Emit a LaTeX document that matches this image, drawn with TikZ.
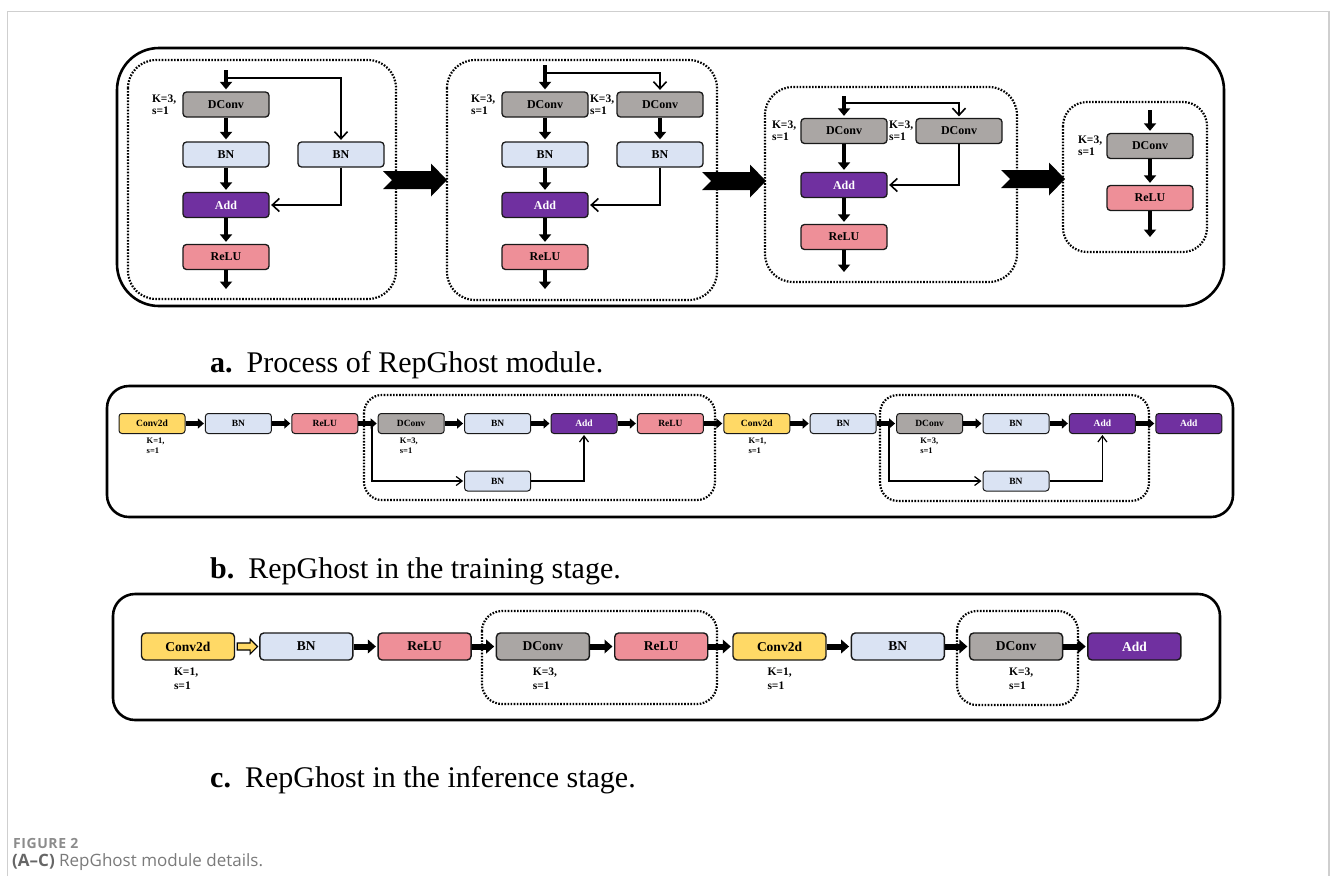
\documentclass[tikz,border=0pt]{standalone}
\usepackage{fontspec}
\setmainfont{Liberation Serif}
\newfontfamily\capfont{Open Sans}
\usetikzlibrary{arrows.meta,calc}

\definecolor{dconvgray}{HTML}{AAA6A4}
\definecolor{bnblue}{HTML}{DAE3F3}
\definecolor{addpurple}{HTML}{7030A0}
\definecolor{relupink}{HTML}{EE8F98}
\definecolor{convyellow}{HTML}{FFD966}
\definecolor{framegray}{HTML}{CFCFCF}
\definecolor{capgray}{HTML}{7A7A7A}
\definecolor{caplight}{HTML}{8C8C8C}
\definecolor{capdark}{HTML}{666666}

\tikzset{
  box/.style={draw=black!90, rounded corners=3.5pt, inner sep=0pt, text=black},
  boxA/.style={box, line width=1.3pt, minimum width=86pt, minimum height=25pt,
    font=\fontsize{12}{14}\selectfont\bfseries},
  boxB/.style={box, line width=1pt, rounded corners=3pt, minimum width=66pt, minimum height=20pt,
    font=\fontsize{9.5}{11}\selectfont\bfseries},
  boxC/.style={box, line width=1.4pt, rounded corners=4pt, minimum width=93pt, minimum height=27pt,
    font=\fontsize{13.5}{16}\selectfont\bfseries},
  dconv/.style={fill=dconvgray},
  bn/.style={fill=bnblue},
  addop/.style={fill=addpurple, text=white},
  relu/.style={fill=relupink},
  conv/.style={fill=convyellow},
  thickA/.style={line width=4.6pt, -{Triangle[length=7.5pt,width=12pt]}, shorten >=2pt},
  thickB/.style={line width=4.2pt, -{Triangle[length=6pt,width=10pt]}, shorten >=1pt},
  thickC/.style={line width=6pt, -{Triangle[length=8pt,width=13.5pt]}, shorten >=1.5pt},
  thinA/.style={line width=1.6pt, -{Straight Barb[length=7pt,width=13pt]}, shorten >=1.5pt},
  thinB/.style={line width=1.2pt, -{Straight Barb[length=6pt,width=9pt]}, shorten >=1pt},
  lblA/.style={font=\fontsize{11.5}{12}\selectfont\bfseries, align=left, inner sep=0pt},
  lblB/.style={font=\fontsize{8.5}{10}\selectfont\bfseries, align=left, inner sep=0pt},
  lblC/.style={font=\fontsize{11.5}{13.5}\selectfont\bfseries, align=left, inner sep=0pt},
  outerbox/.style={draw=black, line width=2.6pt},
  modbox/.style={draw=black, line width=2.2pt, dash pattern=on 1.6pt off 1.5pt},
  title/.style={anchor=base west, inner sep=0pt, font=\fontsize{30}{33}\selectfont},
  bigarr/.pic={\fill (0,-9) -- (48,-9) -- (48,-16.5) -- (64,0) -- (48,16.5) -- (48,9) -- (0,9) -- (9,0) -- cycle;}
}

\begin{document}
\begin{tikzpicture}[x=1pt,y=-1pt]
\useasboundingbox (0,0) rectangle (1331,876);

% page frame
\draw[framegray, line width=1.3pt] (7.5,876) -- (7.5,11.5) -- (1329,11.5) -- (1329,876);

% ---------------- panel a: re-parameterisation steps ----------------
\draw[outerbox, rounded corners=42pt] (117,48) rectangle (1224,306);
\draw[modbox, rounded corners=28pt] (128,60) rectangle (396,299);
\draw[modbox, rounded corners=28pt] (447,60) rectangle (717,300);
\draw[modbox, rounded corners=28pt] (765,87) rectangle (1017,282);
\draw[modbox, rounded corners=24pt] (1063,102) rectangle (1207,252);

\pic at (383,180) {bigarr};
\pic at (702,181) {bigarr};
\pic at (1001,179) {bigarr};

% step 1
\node[boxA,dconv] (a1dc) at (226,104.5) {DConv};
\node[boxA,bn] (a1bn) at (226,154.5) {BN};
\node[boxA,bn] (a1bnr) at (341,154.5) {BN};
\node[boxA,addop] (a1add) at (226,205) {Add};
\node[boxA,relu] (a1relu) at (226,257) {ReLU};
\coordinate (a1in) at (226,70);
\coordinate (a1br) at (226,78);
\coordinate (a1out) at (226,291);
\draw[thickA] (a1in) -- (a1dc);
\draw[thickA] (a1dc) -- (a1bn);
\draw[thickA] (a1bn) -- (a1add);
\draw[thickA] (a1add) -- (a1relu);
\draw[thickA] (a1relu) -- (a1out);
\draw[thinA] (a1br) -| (a1bnr);
\draw[thinA] (a1bnr) |- (a1add);
\node[lblA, anchor=north east] at ($(a1dc.north west)+(-6,3)$) {K=3,\\s=1};

% step 2
\node[boxA,dconv] (a2dc) at (545,104.5) {DConv};
\node[boxA,dconv] (a2dcr) at (660,104.5) {DConv};
\node[boxA,bn] (a2bn) at (545,154.5) {BN};
\node[boxA,bn] (a2bnr) at (660,154.5) {BN};
\node[boxA,addop] (a2add) at (545,205) {Add};
\node[boxA,relu] (a2relu) at (545,257) {ReLU};
\coordinate (a2in) at (545,65);
\coordinate (a2br) at (545,73);
\coordinate (a2out) at (545,291);
\draw[thickA] (a2in) -- (a2dc);
\draw[thickA] (a2dc) -- (a2bn);
\draw[thickA] (a2dcr) -- (a2bnr);
\draw[thickA] (a2bn) -- (a2add);
\draw[thickA] (a2add) -- (a2relu);
\draw[thickA] (a2relu) -- (a2out);
\draw[thinA] (a2br) -| (a2dcr);
\draw[thinA] (a2bnr) |- (a2add);
\node[lblA, anchor=north east] at ($(a2dc.north west)+(-6,3)$) {K=3,\\s=1};
\node[lblA, anchor=north east] at ($(a2dcr.north west)+(-2,3)$) {K=3,\\s=1};

% step 3
\node[boxA,dconv] (a3dc) at (844,131) {DConv};
\node[boxA,dconv] (a3dcr) at (959,131) {DConv};
\node[boxA,addop] (a3add) at (844,185) {Add};
\node[boxA,relu] (a3relu) at (844,237) {ReLU};
\coordinate (a3in) at (844,96);
\coordinate (a3br) at (844,103);
\coordinate (a3out) at (844,274);
\draw[thickA] (a3in) -- (a3dc);
\draw[thickA] (a3dc) -- (a3add);
\draw[thickA] (a3add) -- (a3relu);
\draw[thickA] (a3relu) -- (a3out);
\draw[thinA] (a3br) -| (a3dcr);
\draw[thinA] (a3dcr) |- (a3add);
\node[lblA, anchor=north east] at ($(a3dc.north west)+(-4,3)$) {K=3,\\s=1};
\node[lblA, anchor=north east] at ($(a3dcr.north west)+(-2,3)$) {K=3,\\s=1};

% step 4
\node[boxA,dconv] (a4dc) at (1150,146) {DConv};
\node[boxA,relu] (a4relu) at (1150,198) {ReLU};
\coordinate (a4in) at (1150,110);
\coordinate (a4out) at (1150,239);
\draw[thickA] (a4in) -- (a4dc);
\draw[thickA] (a4dc) -- (a4relu);
\draw[thickA] (a4relu) -- (a4out);
\node[lblA, anchor=north east] at ($(a4dc.north west)+(-4,3)$) {K=3,\\s=1};

\node[title] (ta) at (210,372) {\textbf{a.}\hspace{14pt}Process of RepGhost module.};

% ---------------- panel b: training stage ----------------
\draw[outerbox, rounded corners=22pt] (107,386) rectangle (1233,517);
\draw[modbox, rounded corners=18pt] (364,395) rectangle (715,500);
\draw[modbox, rounded corners=18pt] (880,395) rectangle (1149,501);

\node[boxB,conv]  (b1)  at (152,423.5) {Conv2d};
\node[boxB,bn]    (b2)  at (238.4,423.5) {BN};
\node[boxB,relu]  (b3)  at (324.8,423.5) {ReLU};
\node[boxB,dconv] (b4)  at (411.2,423.5) {DConv};
\node[boxB,bn]    (b5)  at (497.6,423.5) {BN};
\node[boxB,addop] (b6)  at (584,423.5) {Add};
\node[boxB,relu]  (b7)  at (670.4,423.5) {ReLU};
\node[boxB,conv]  (b8)  at (756.8,423.5) {Conv2d};
\node[boxB,bn]    (b9)  at (843.2,423.5) {BN};
\node[boxB,dconv] (b10) at (929.6,423.5) {DConv};
\node[boxB,bn]    (b11) at (1016,423.5) {BN};
\node[boxB,addop] (b12) at (1102.4,423.5) {Add};
\node[boxB,addop] (b13) at (1188.8,423.5) {Add};
\node[boxB,bn]    (bl1) at (497.6,481) {BN};
\node[boxB,bn]    (bl2) at (1016,481) {BN};

\foreach \i/\j in {1/2,2/3,3/4,4/5,5/6,6/7,7/8,8/9,9/10,10/11,11/12,12/13}
  \draw[thickB] (b\i) -- (b\j);

\coordinate (bbr1) at (372,423.5);
\coordinate (bbr2) at (889,423.5);
\draw[thinB] (bbr1) |- (bl1);
\draw[thinB] (bl1) -| (b6);
\draw[thinB] (bbr2) |- (bl2);
\draw[thinB] (bl2) -| (b12);

\node[lblB, anchor=north west] at ($(b1.south west)+(28,4)$) {K=1,\\s=1};
\node[lblB, anchor=north west] at ($(b4.south west)+(22,4)$) {K=3,\\s=1};
\node[lblB, anchor=north west] at ($(b8.south west)+(25,4)$) {K=1,\\s=1};
\node[lblB, anchor=north west] at ($(b10.south west)+(24,4)$) {K=3,\\s=1};

\node[title] (tb) at (210,578) {\textbf{b.}\hspace{14pt}RepGhost in the training stage.};

% ---------------- panel c: inference stage ----------------
\draw[outerbox, rounded corners=22pt] (113,594) rectangle (1220,720);
\draw[modbox, rounded corners=20pt] (482,611) rectangle (717,704);
\draw[modbox, rounded corners=20pt] (957,611) rectangle (1078,705);

\node[boxC,conv]  (c1) at (188,646.5) {Conv2d};
\node[boxC,bn]    (c2) at (306.3,646.5) {BN};
\node[boxC,relu]  (c3) at (424.6,646.5) {ReLU};
\node[boxC,dconv] (c4) at (542.9,646.5) {DConv};
\node[boxC,relu]  (c5) at (661.2,646.5) {ReLU};
\node[boxC,conv]  (c6) at (779.5,646.5) {Conv2d};
\node[boxC,bn]    (c7) at (897.8,646.5) {BN};
\node[boxC,dconv] (c8) at (1016.1,646.5) {DConv};
\node[boxC,addop] (c9) at (1134.4,646.5) {Add};

% hollow yellow arrow from the first convolution
\draw[line width=1.2pt, fill=convyellow, line join=miter]
  ($(c1.east)+(2,-3.5)$) -- ($(c2.west)+(-9,-3.5)$) -- ($(c2.west)+(-9,-7.5)$)
  -- ($(c2.west)+(-1.5,0)$) -- ($(c2.west)+(-9,7.5)$) -- ($(c2.west)+(-9,3.5)$)
  -- ($(c1.east)+(2,3.5)$) -- cycle;
\foreach \i/\j in {2/3,3/4,4/5,5/6,6/7,7/8,8/9}
  \draw[thickC] (c\i) -- (c\j);

\node[lblC, anchor=north west] at ($(c1.south west)+(33,7)$) {K=1,\\s=1};
\node[lblC, anchor=north west] at ($(c4.south west)+(37,7)$) {K=3,\\s=1};
\node[lblC, anchor=north west] at ($(c6.south west)+(35,7)$) {K=1,\\s=1};
\node[lblC, anchor=north west] at ($(c8.south west)+(40,7)$) {K=3,\\s=1};

\node[title] (tc) at (210,787) {\textbf{c.}\hspace{14pt}RepGhost in the inference stage.};

% ---------------- caption ----------------
\node[anchor=base west, inner sep=0pt, text=caplight,
  font=\capfont\bfseries\fontsize{14}{16}\selectfont\addfontfeatures{LetterSpace=4}] (fig) at (13,848) {FIGURE 2};
\node[anchor=base west, inner sep=0pt, text=capgray,
  font=\capfont\fontsize{17}{20}\selectfont] (cap) at (12,866) {\textcolor{capdark}{\textbf{(A–C)}} RepGhost module details.};
\end{tikzpicture}
\end{document}
